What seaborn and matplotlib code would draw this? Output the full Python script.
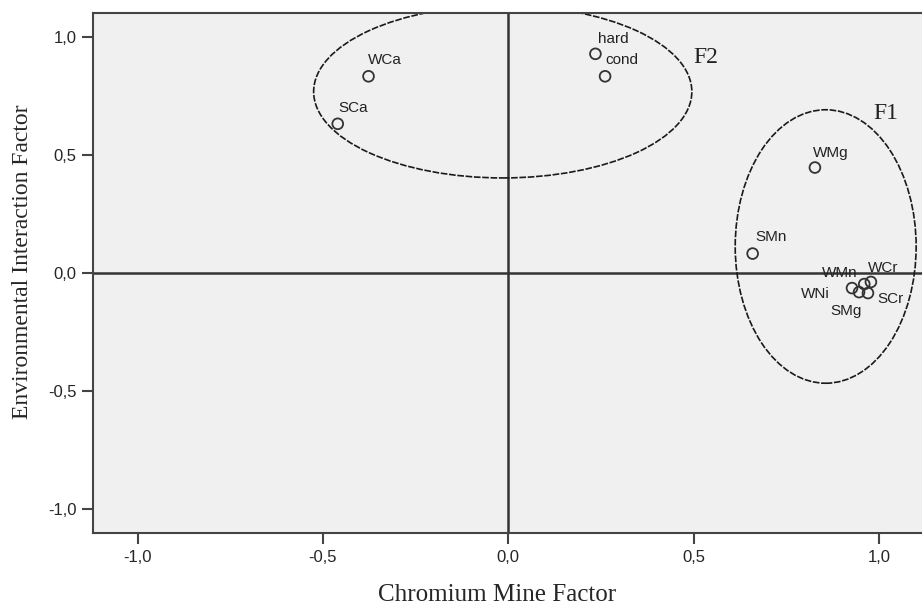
import numpy as np
import pandas as pd
import matplotlib
matplotlib.use('Agg')
import matplotlib.pyplot as plt
from matplotlib.patches import Ellipse
import seaborn as sns

# loadings
variables = ['WCa', 'SCa', 'hard', 'cond', 'WMg', 'SMn', 'WNi', 'SMg', 'WMn', 'WCr', 'SCr']
chromium = [-0.377, -0.460, 0.235, 0.261, 0.827, 0.659, 0.927, 0.946, 0.960, 0.978, 0.970]
environ = [0.832, 0.631, 0.927, 0.832, 0.446, 0.082, -0.064, -0.081, -0.047, -0.038, -0.085]

tick_values = [-1.0, -0.5, 0.0, 0.5, 1.0]
tick_labels = ['-1,0', '-0,5', '0,0', '0,5', '1,0']

# factor group outlines: (name, centre x, centre y, width, height)
groups = [('F2', -0.015, 0.767, 1.02, 0.73),
          ('F1', 0.856, 0.112, 0.488, 1.157)]

# label placement in pixels (dx, dy, ha)
px = 0.72
label_pos = {
    'WCa': (-1, 12, 'left'), 'SCa': (1, 12, 'left'), 'hard': (3, 11, 'left'),
    'cond': (0, 12, 'left'), 'WMg': (-2, 11, 'left'), 'SMn': (3, 13, 'left'),
    'WNi': (-22, -10, 'right'), 'SMg': (3, -23, 'right'), 'WMn': (-7, 7, 'right'),
    'WCr': (-3, 10, 'left'), 'SCr': (9, -10, 'left'),
}

df = pd.DataFrame({'var': variables, 'x': chromium, 'y': environ})

sns.set_style('ticks', {'axes.facecolor': '#f0f0f0', 'axes.edgecolor': '#444444'})

fig = plt.figure(figsize=(9.22, 6.08), dpi=100)
ax = fig.add_axes([0.1009, 0.1234, 0.9008, 0.8553])

ax.axhline(0, color='#333333', lw=1.8, zorder=1)
ax.axvline(0, color='#333333', lw=1.8, zorder=1)

for name, cx, cy, w, h in groups:
    ax.add_patch(Ellipse((cx, cy), w, h, fill=False, ec='#1a1a1a', lw=1.2,
                         ls=(0, (4, 1)), zorder=2))

sns.scatterplot(data=df, x='x', y='y', ax=ax, marker='o', s=60,
                facecolor='none', edgecolor='#333333', linewidth=1.3, zorder=3)

for name, xv, yv in zip(variables, chromium, environ):
    dx, dy, ha = label_pos[name]
    ax.annotate(name, (xv, yv), xytext=(dx * px, dy * px), textcoords='offset points',
                ha=ha, va='baseline', fontsize=11, color='#222222',
                family='Liberation Sans')

ax.text(0.5, 0.91, 'F2', fontsize=17, family='Liberation Serif', va='center', color='#222222')
ax.text(0.985, 0.675, 'F1', fontsize=17, family='Liberation Serif', va='center', color='#222222')

ax.set_xlim(-1.12, 1.12)
ax.set_ylim(-1.10, 1.10)
ax.set_xticks(tick_values)
ax.set_xticklabels(tick_labels)
ax.set_yticks(tick_values)
ax.set_yticklabels(tick_labels)
ax.tick_params(length=8, width=1.5, color='#444444', labelsize=12, pad=4)
for lab in ax.get_xticklabels() + ax.get_yticklabels():
    lab.set_family('Liberation Sans')
for sp in ax.spines.values():
    sp.set_linewidth(1.5)
ax.spines['right'].set_visible(False)

ax.set_xlabel('Chromium Mine Factor', fontsize=18, family='Liberation Serif')
ax.set_ylabel('Environmental Interaction Factor', fontsize=17, family='Liberation Serif')
ax.xaxis.set_label_coords(0.486, -0.098)
ax.yaxis.set_label_coords(-0.072, 0.521)

fig.savefig('out.png', dpi=100)
